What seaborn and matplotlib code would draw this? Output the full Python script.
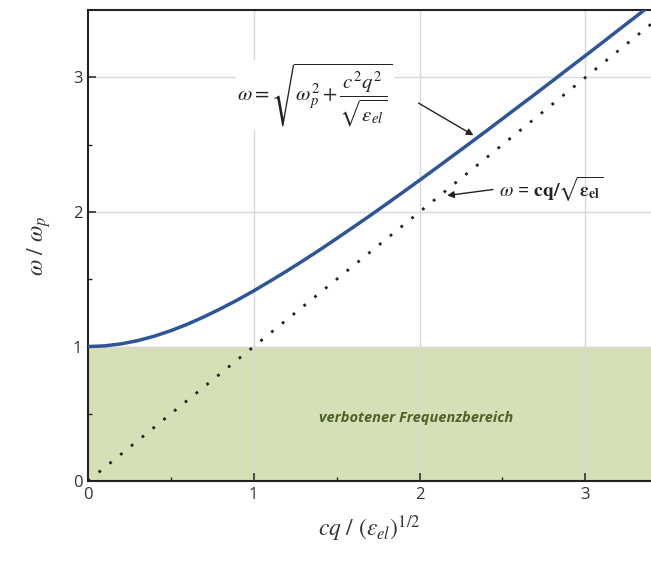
import matplotlib
matplotlib.use("Agg")
import matplotlib.pyplot as plt
import seaborn as sns
import pandas as pd

# Data
x_vals = [0.0, 0.1, 0.2, 0.3, 0.4, 0.5, 0.6, 0.7, 0.8, 0.9, 1.0, 1.1, 1.2, 1.3,
          1.4, 1.5, 1.6, 1.7, 1.8, 1.9, 2.0, 2.1, 2.2, 2.3, 2.4, 2.5, 2.6, 2.7,
          2.8, 2.9, 3.0, 3.1, 3.2, 3.3, 3.4]
omega_vals = [1.00, 1.005, 1.02, 1.044, 1.077, 1.118, 1.166, 1.221, 1.281, 1.345,
              1.414, 1.487, 1.562, 1.640, 1.720, 1.803, 1.887, 1.972, 2.059, 2.147,
              2.236, 2.326, 2.417, 2.508, 2.600, 2.693, 2.786, 2.879, 2.973, 3.068,
              3.162, 3.257, 3.353, 3.448, 3.544]
light_x = [0.0, 3.5]
light_y = [0.0, 3.5]
band_low, band_high = 0.0, 1.0
x_ticks = [0, 1, 2, 3]
y_ticks = [0, 1, 2, 3]
band_label = "verbotener Frequenzbereich"

sns.set_theme(style="white")
plt.rcParams['font.family'] = ['Open Sans', 'DejaVu Sans']
plt.rcParams['mathtext.fontset'] = 'stix'

fig = plt.figure(figsize=(6.51, 5.68), dpi=100)
ax = fig.add_axes([0.135, 0.153, 0.866, 0.829])

ax.axhspan(band_low, band_high, color="#d5e0b6", zorder=0)

for v in x_ticks[1:]:
    ax.axvline(v, color="#d9d9d9", lw=1.0, zorder=0.5)
for v in y_ticks[1:]:
    ax.axhline(v, color="#d9d9d9", lw=1.0, zorder=0.5)

df_curve = pd.DataFrame({"x": x_vals, "y": omega_vals})
df_light = pd.DataFrame({"x": light_x, "y": light_y})
sns.lineplot(data=df_curve, x="x", y="y", ax=ax, color="#2e5597", lw=2.5, zorder=3)
sns.lineplot(data=df_light, x="x", y="y", ax=ax, color="#222222", lw=2.0,
             linestyle=(0, (1, 4)), zorder=3)

ax.set_xlim(0, 3.4)
ax.set_ylim(0, 3.5)
ax.set_xticks(x_ticks)
ax.set_yticks(y_ticks)
ax.set_xticks([0.5, 1.5, 2.5], minor=True)
ax.set_yticks([0.5, 1.5, 2.5], minor=True)
ax.tick_params(axis="both", which="major", direction="in", length=6, width=1.2,
               labelsize=12, colors="#333333", pad=4)
ax.tick_params(axis="both", which="minor", direction="in", length=3, width=1.0)
ax.tick_params(axis="x", bottom=True, which="both")
ax.tick_params(axis="y", left=True, which="both")

for s in ["left", "bottom", "top"]:
    ax.spines[s].set_visible(True)
    ax.spines[s].set_color("#222222")
    ax.spines[s].set_linewidth(1.5)
ax.spines["right"].set_visible(False)

ax.set_xlabel(r"$cq\ /\ (\varepsilon_{el})^{1/2}$", fontsize=17, labelpad=8, color="#333333")
ax.set_ylabel(r"$\omega\ /\ \omega_p$", fontsize=17, labelpad=14, color="#333333")

ax.text(1.98, 0.47, band_label, fontsize=10.5, style="italic", fontweight="bold",
        color="#4f6228", ha="center", va="center", zorder=4)

ax.text(1.37, 2.87, r"$\omega = \sqrt{\omega_p^2 + \dfrac{c^2q^2}{\sqrt{\varepsilon_{el}}}}$",
        fontsize=15, ha="center", va="center", color="#222222", zorder=4,
        bbox=dict(facecolor="white", edgecolor="none", pad=1))
ax.annotate("", xy=(2.34, 2.56), xytext=(1.98, 2.82),
            arrowprops=dict(arrowstyle="-|>", color="#222222", lw=1.0,
                            mutation_scale=10), zorder=4)

ax.text(2.48, 2.17, r"$\omega$ = $\mathbf{cq/\sqrt{\varepsilon_{el}}}$", fontsize=14,
        ha="left", va="center", color="#222222", zorder=4)
ax.annotate("", xy=(2.15, 2.12), xytext=(2.46, 2.17),
            arrowprops=dict(arrowstyle="-|>", color="#222222", lw=1.0,
                            mutation_scale=10), zorder=4)

fig.savefig("out.png", dpi=100)
